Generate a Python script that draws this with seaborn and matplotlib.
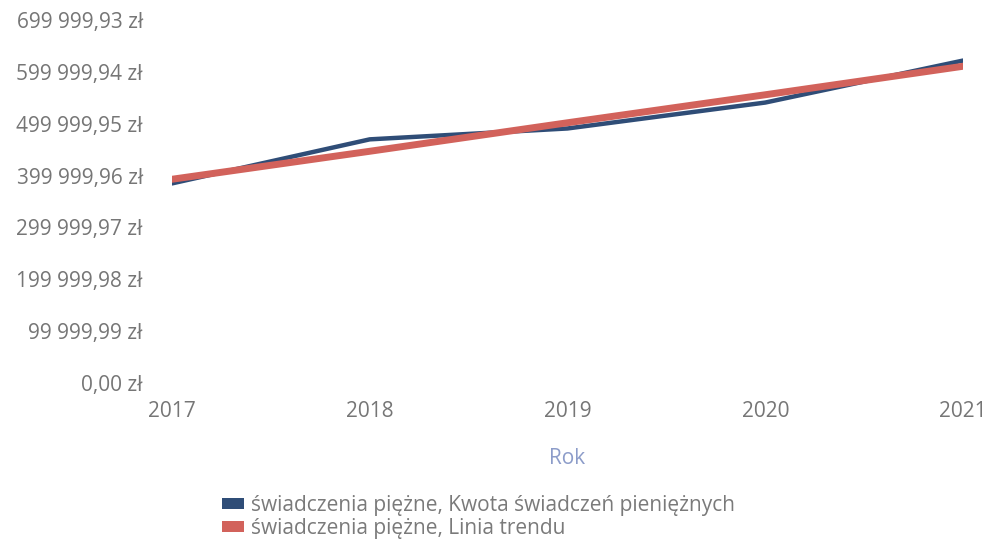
import matplotlib
matplotlib.use("Agg")
import matplotlib.pyplot as plt
import seaborn as sns
import pandas as pd
from matplotlib.ticker import FixedLocator, FuncFormatter
from matplotlib.patches import Patch

years = [2017, 2018, 2019, 2020, 2021]
amounts = [385000, 470000, 491000, 541000, 622000]
trend = [393000, 447000, 502000, 556000, 611000]
y_ticks = [0.00, 99999.99, 199999.98, 299999.97, 399999.96, 499999.95, 599999.94, 699999.93]
series_names = ["świadczenia piężne, Kwota świadczeń pieniężnych",
                "świadczenia piężne, Linia trendu"]
colors = ["#2f4d77", "#d2625b"]

sns.set_theme(style="white")
plt.rcParams['font.family'] = ['Open Sans', 'DejaVu Sans']

df = pd.DataFrame({
    "Rok": years * 2,
    "value": amounts + trend,
    "series": [series_names[0]] * len(years) + [series_names[1]] * len(years),
})

fig = plt.figure(figsize=(9.85, 5.44), dpi=100)
ax = fig.add_axes([0.1746, 0.296, 0.8031, 0.667])

sns.lineplot(data=df[df.series == series_names[0]], x="Rok", y="value",
             color=colors[0], linewidth=3.2, ax=ax, legend=False)
sns.lineplot(data=df[df.series == series_names[1]], x="Rok", y="value",
             color=colors[1], linewidth=5.0, ax=ax, legend=False)

ax.set_xlim(2017, 2021)
ax.set_ylim(0, 699999.93)
ax.set_xticks(years)
ax.yaxis.set_major_locator(FixedLocator(y_ticks))

def fmt(v, pos):
    s = f"{v:,.2f}"
    s = s.replace(",", " ").replace(".", ",")
    return s + " zł"

ax.yaxis.set_major_formatter(FuncFormatter(fmt))
ax.tick_params(axis="y", labelsize=15, colors="#767676", length=0, pad=21)
ax.tick_params(axis="x", labelsize=15, colors="#767676", length=0, pad=13)
for s in ax.spines.values():
    s.set_visible(False)
ax.set_ylabel("")
ax.set_xlabel("Rok", fontsize=15, color="#8c9cc9", labelpad=19)
for lbl in ax.get_xticklabels():
    lbl.set_clip_on(False)

handles = [Patch(facecolor=colors[0], edgecolor="none"),
           Patch(facecolor=colors[1], edgecolor="none")]
leg = fig.legend(handles, series_names, loc="upper left",
                 bbox_to_anchor=(0.2143, 0.11), frameon=False,
                 fontsize=15, labelspacing=0.1, handlelength=1.1,
                 handleheight=0.45, handletextpad=0.3, borderpad=0)
for t in leg.get_texts():
    t.set_color("#7a7a7a")

fig.savefig("out.png", dpi=100)
